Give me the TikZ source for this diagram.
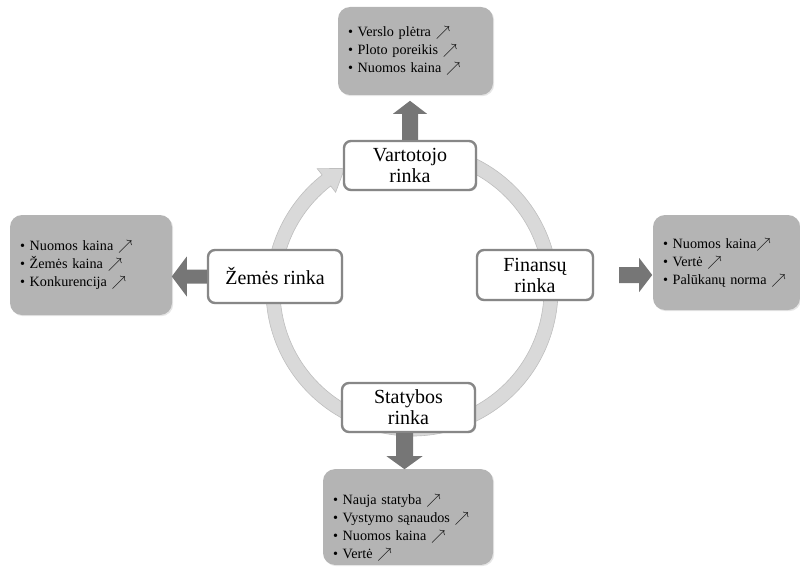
\documentclass[tikz,border=0pt]{standalone}
\usepackage{fontspec}
\setmainfont{Liberation Serif}
\usetikzlibrary{calc,shadows}

\definecolor{ringfill}{RGB}{217,217,217}
\definecolor{ringedge}{RGB}{190,190,190}
\definecolor{boxfill}{RGB}{180,180,180}
\definecolor{arrowfill}{RGB}{118,118,118}
\definecolor{nodeborder}{RGB}{135,135,135}

\tikzset{
  market/.style={draw=nodeborder, line width=2.4pt, fill=white,
    rounded corners=7pt, align=center, inner sep=2pt,
    font=\fontsize{20}{21}\selectfont,
    drop shadow={shadow xshift=1.2pt, shadow yshift=-1.2pt, opacity=0.25}},
  effects/.style={fill=boxfill, rounded corners=12pt, align=left,
    inner xsep=10pt, inner ysep=4pt,
    font=\fontsize{14.2}{18}\selectfont,
    drop shadow={shadow xshift=1.2pt, shadow yshift=-1.2pt, opacity=0.2}},
  blockarrow/.style={fill=arrowfill},
}

\newcommand{\up}{$\nearrow$}

\begin{document}
\begin{tikzpicture}[x=1pt, y=-1pt]
\useasboundingbox (0,0) rectangle (800,567);

% circular cycle arrow running clockwise behind the four markets
\coordinate (c) at (412,290);
\fill[ringfill, draw=ringedge, line width=0.6pt]
  ([shift={(c)}]-80:146) arc[start angle=-80, end angle=232, radius=146]
  -- ([shift={(c)}]232:154) -- ([shift={(c)}]241:139)
  -- ([shift={(c)}]232:124) -- ([shift={(c)}]232:132)
  arc[start angle=232, end angle=-80, radius=132] -- cycle;

% the four markets
\node[market, minimum width=132pt, minimum height=49pt] (vart) at (410,165.5) {Vartotojo\\rinka};
\node[market, minimum width=116pt, minimum height=50pt] (fin) at (535,275) {Finansų\\rinka};
\node[market, minimum width=133pt, minimum height=49pt] (stat) at (408.5,407.5) {Statybos\\rinka};
\node[market, minimum width=134pt, minimum height=53pt] (zem) at (275,276.5) {Žemės rinka};

% effect boxes
\node[effects, text width=135pt, minimum height=88pt] (topbox) at (415.5,51)
  {\textbullet\ Verslo plėtra \up\\
   \textbullet\ Ploto poreikis \up\\
   \textbullet\ Nuomos kaina \up};
\node[effects, text width=142pt, minimum height=100pt] (leftbox) at (91,265)
  {\textbullet\ Nuomos kaina \up\\
   \textbullet\ Žemės kaina \up\\
   \textbullet\ Konkurencija \up\\[8pt]};
\node[effects, text width=127pt, minimum height=95pt] (rightbox) at (726.5,262.5)
  {\textbullet\ Nuomos kaina\up\\
   \textbullet\ Vertė \up\\
   \textbullet\ Palūkanų norma \up\\[3pt]};
\node[effects, text width=150pt, minimum height=88pt] (botbox) at (408,517)
  {\rule{0pt}{31pt}\textbullet\ Nauja statyba \up\\
   \textbullet\ Vystymo sąnaudos \up\\
   \textbullet\ Nuomos kaina \up\\
   \textbullet\ Vertė \up};

% block arrows from each market to its effects
\fill[blockarrow, shift={(vart.north)}, rotate=90]
  (0,-8) -- (26,-8) -- (26,-17) -- (39,0) -- (26,17) -- (26,8) -- (0,8) -- cycle;
\fill[blockarrow, shift={(zem.west)}, rotate=180]
  (0,-7) -- (20,-7) -- (20,-20) -- (35,0) -- (20,20) -- (20,7) -- (0,7) -- cycle;
\fill[blockarrow, shift={($(fin.east)+(25,0)$)}]
  (0,-8) -- (20,-8) -- (20,-17) -- (33,0) -- (20,17) -- (20,8) -- (0,8) -- cycle;
\fill[blockarrow, shift={($(stat.south)+(-4,0)$)}, rotate=-90]
  (0,-8.5) -- (23,-8.5) -- (23,-18) -- (36,0) -- (23,18) -- (23,8.5) -- (0,8.5) -- cycle;
\end{tikzpicture}
\end{document}
